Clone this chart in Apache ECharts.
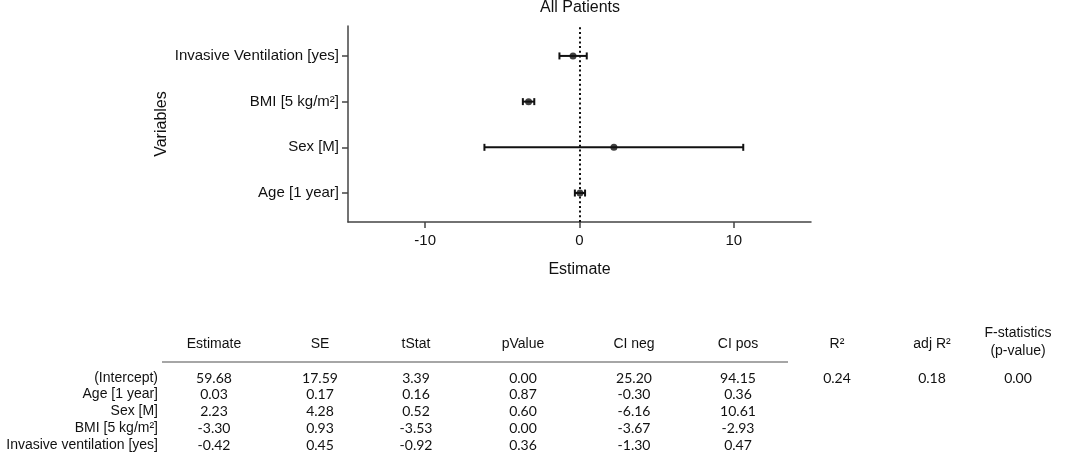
<!DOCTYPE html>
<html>
<head>
    <meta charset="utf-8">
    <title>All Patients</title>
    <script src="https://cdn.jsdelivr.net/npm/echarts@6/dist/echarts.min.js"></script>
    <style>
        html, body { margin: 0; padding: 0; background: #fff; }
        #chart { width: 1065px; height: 469px; }
    </style>
</head>
<body>
<div id="chart"></div>
<script type="text/javascript">
    // regression table rows (row 0 = intercept, rows 1..4 are plotted)
    var rowNames = ['(Intercept)', 'Age [1 year]', 'Sex [M]', 'BMI [5 kg/m\u00B2]', 'Invasive ventilation [yes]'];
    var plotNames = ['Age [1 year]', 'Sex [M]', 'BMI [5 kg/m\u00B2]', 'Invasive Ventilation [yes]'];
    var estimate = [59.68, 0.03, 2.23, -3.30, -0.42];
    var se = [17.59, 0.17, 4.28, 0.93, 0.45];
    var tStat = [3.39, 0.16, 0.52, -3.53, -0.92];
    var pValue = [0.00, 0.87, 0.60, 0.00, 0.36];
    var ciNeg = [25.20, -0.30, -6.16, -3.67, -1.30];
    var ciPos = [94.15, 0.36, 10.61, -2.93, 0.47];
    var columnNames = ['Estimate', 'SE', 'tStat', 'pValue', 'CI neg', 'CI pos'];
    // model statistics
    var statNames = ['R\u00B2', 'adj R\u00B2', 'F-statistics\n(p-value)'];
    var statValues = [0.24, 0.18, 0.00];
    var xTicks = [-10, 0, 10];
    var yTicks = [1, 2, 3, 4];

    var myChart = echarts.init(document.getElementById('chart'));

    var textColor = '#111';
    var sansFont = '"Liberation Sans", Arial, sans-serif';
    var numFont = 'Lato, "Open Sans", sans-serif';

    // points of the forest plot (skip intercept)
    var barData = [];
    var pointData = [];
    for (var i = 1; i < rowNames.length; i++) {
        barData.push([ciNeg[i], ciPos[i], i]);
        pointData.push([estimate[i], i]);
    }

    // table built with graphic texts
    var colX = [214, 320, 416, 523, 634, 738];
    var statX = [837, 932, 1018];
    var headerY = 344;
    var rowY = [378, 394.5, 411, 428, 445];
    var graphics = [];
    graphics.push({
        type: 'text', x: 580, y: 8,
        style: { text: 'All Patients', align: 'center', verticalAlign: 'middle', fill: textColor, font: '16px ' + sansFont }
    });
    for (var c = 0; c < columnNames.length; c++) {
        graphics.push({
            type: 'text', x: colX[c], y: headerY,
            style: { text: columnNames[c], align: 'center', verticalAlign: 'middle', fill: textColor, font: '14px ' + sansFont }
        });
    }
    for (var s = 0; s < statNames.length; s++) {
        graphics.push({
            type: 'text', x: statX[s], y: s === 2 ? 342 : headerY,
            style: { text: statNames[s], align: 'center', verticalAlign: 'middle', fill: textColor, font: '14px ' + sansFont, lineHeight: 18 }
        });
        graphics.push({
            type: 'text', x: statX[s], y: rowY[0],
            style: { text: statValues[s].toFixed(2), align: 'center', verticalAlign: 'middle', fill: textColor, font: '14px ' + numFont }
        });
    }
    graphics.push({
        type: 'line',
        shape: { x1: 162, y1: 362, x2: 788, y2: 362 },
        style: { stroke: '#888', lineWidth: 1.5 }
    });
    var cols = [estimate, se, tStat, pValue, ciNeg, ciPos];
    for (var r = 0; r < rowNames.length; r++) {
        graphics.push({
            type: 'text', x: 158, y: rowY[r],
            style: { text: rowNames[r], align: 'right', verticalAlign: 'middle', fill: textColor, font: '14px ' + sansFont }
        });
        for (var k = 0; k < cols.length; k++) {
            graphics.push({
                type: 'text', x: colX[k], y: rowY[r],
                style: { text: cols[k][r].toFixed(2), align: 'center', verticalAlign: 'middle', fill: textColor, font: '14px ' + numFont }
            });
        }
    }

    myChart.setOption({
        animation: false,
        grid: { left: 348, right: 254, top: 26, bottom: 247 },
        xAxis: {
            type: 'value',
            min: -15,
            max: 15,
            name: 'Estimate',
            nameLocation: 'middle',
            nameGap: 40,
            nameTextStyle: { fontSize: 16, color: textColor, fontFamily: sansFont },
            splitLine: { show: false },
            axisLine: { onZero: false, lineStyle: { color: '#444', width: 1.5 } },
            axisTick: { customValues: xTicks, length: 6, lineStyle: { color: '#444', width: 1.5 } },
            axisLabel: { customValues: xTicks, fontSize: 15, color: textColor, fontFamily: sansFont, margin: 11 }
        },
        yAxis: {
            type: 'value',
            min: 0.366,
            max: 4.655,
            name: 'Variables',
            nameLocation: 'middle',
            nameGap: 178,
            nameTextStyle: { fontSize: 16, color: textColor, fontFamily: sansFont },
            splitLine: { show: false },
            axisLine: { onZero: false, lineStyle: { color: '#444', width: 1.5 } },
            axisTick: { customValues: yTicks, length: 6, lineStyle: { color: '#444', width: 1.5 } },
            axisLabel: {
                customValues: yTicks,
                fontSize: 15,
                color: textColor,
                fontFamily: sansFont,
                margin: 9,
                formatter: function (v) { return plotNames[Math.round(v) - 1]; }
            }
        },
        graphic: graphics,
        series: [
            {
                type: 'custom',
                data: barData,
                renderItem: function (params, api) {
                    var lo = api.coord([api.value(0), api.value(2)]);
                    var hi = api.coord([api.value(1), api.value(2)]);
                    var h = 3.5;
                    var st = { stroke: '#111', lineWidth: 2 };
                    return {
                        type: 'group',
                        children: [
                            { type: 'line', shape: { x1: lo[0], y1: lo[1], x2: hi[0], y2: hi[1] }, style: st },
                            { type: 'line', shape: { x1: lo[0], y1: lo[1] - h, x2: lo[0], y2: lo[1] + h }, style: st },
                            { type: 'line', shape: { x1: hi[0], y1: hi[1] - h, x2: hi[0], y2: hi[1] + h }, style: st }
                        ]
                    };
                }
            },
            {
                type: 'scatter',
                data: pointData,
                symbolSize: 7,
                itemStyle: { color: '#111' },
                markLine: {
                    silent: true,
                    symbol: ['none', 'none'],
                    label: { show: false },
                    lineStyle: { color: '#111', type: [2, 2.7], width: 2 },
                    data: [{ xAxis: 0 }]
                }
            }
        ]
    });
</script>
</body>
</html>
